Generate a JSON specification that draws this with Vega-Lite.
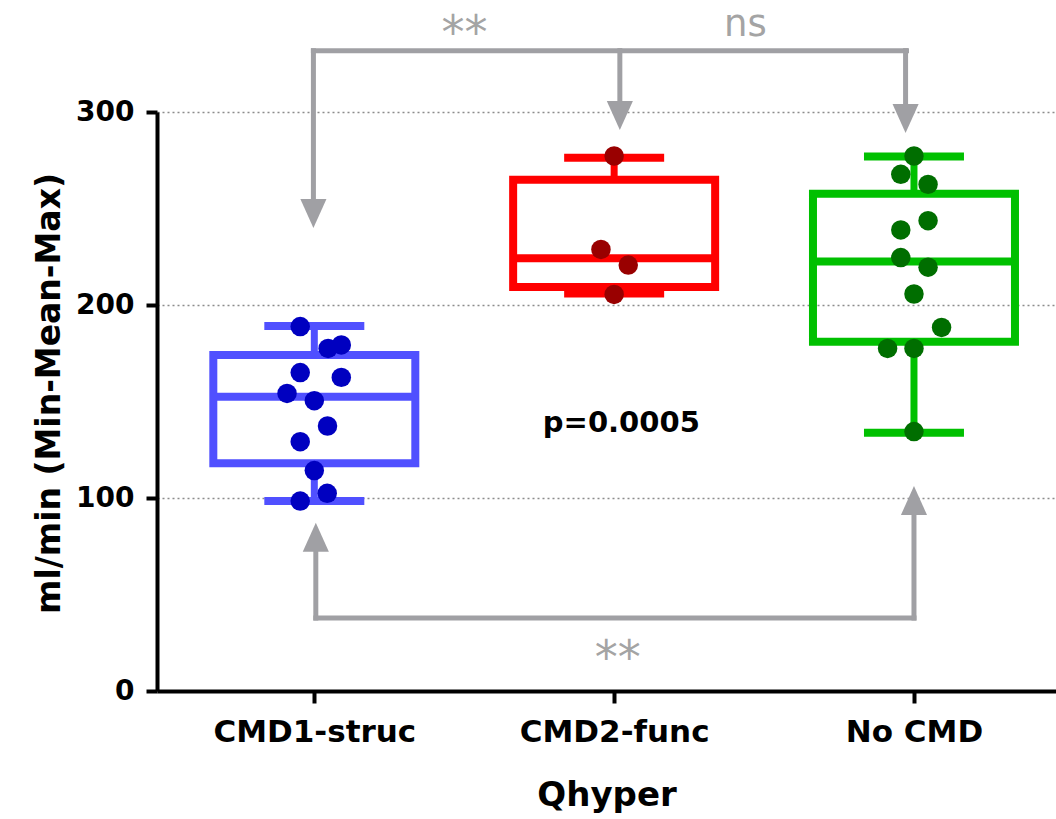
{
  "$schema": "https://vega.github.io/schema/vega-lite/v6.json",
  "width": 899,
  "height": 579,
  "autosize": {"type": "none"},
  "padding": {"left": 157, "top": 112, "right": 0, "bottom": 128},
  "background": "white",
  "config": {"view": {"stroke": null}, "font": "DejaVu Sans"},
  "datasets": {
    "boxes": [
      {"group": "CMD1-struc", "pos": 1, "min": 98.4, "q1": 118.0, "median": 152.5, "q3": 174.1, "max": 189.1},
      {"group": "CMD2-func", "pos": 2, "min": 205.9, "q1": 209.3, "median": 224.2, "q3": 264.9, "max": 276.3},
      {"group": "No CMD", "pos": 3, "min": 133.8, "q1": 181.0, "median": 222.5, "q3": 257.7, "max": 277.0}
    ],
    "points": [
      {"group": "CMD1-struc", "pos": 0.953, "value": 188.8},
      {"group": "CMD1-struc", "pos": 1.046, "value": 177.5},
      {"group": "CMD1-struc", "pos": 1.090, "value": 179.3},
      {"group": "CMD1-struc", "pos": 0.953, "value": 165.0},
      {"group": "CMD1-struc", "pos": 1.090, "value": 162.5},
      {"group": "CMD1-struc", "pos": 0.909, "value": 154.2},
      {"group": "CMD1-struc", "pos": 1.000, "value": 150.4},
      {"group": "CMD1-struc", "pos": 1.044, "value": 137.3},
      {"group": "CMD1-struc", "pos": 0.953, "value": 129.2},
      {"group": "CMD1-struc", "pos": 1.000, "value": 114.2},
      {"group": "CMD1-struc", "pos": 1.043, "value": 102.4},
      {"group": "CMD1-struc", "pos": 0.953, "value": 98.4},
      {"group": "CMD2-func", "pos": 2.000, "value": 277.2},
      {"group": "CMD2-func", "pos": 1.956, "value": 228.8},
      {"group": "CMD2-func", "pos": 2.047, "value": 220.7},
      {"group": "CMD2-func", "pos": 2.000, "value": 205.5},
      {"group": "No CMD", "pos": 3.000, "value": 277.2},
      {"group": "No CMD", "pos": 2.956, "value": 267.7},
      {"group": "No CMD", "pos": 3.047, "value": 262.5},
      {"group": "No CMD", "pos": 3.047, "value": 243.7},
      {"group": "No CMD", "pos": 2.956, "value": 238.9},
      {"group": "No CMD", "pos": 2.956, "value": 224.6},
      {"group": "No CMD", "pos": 3.047, "value": 219.6},
      {"group": "No CMD", "pos": 3.000, "value": 205.7},
      {"group": "No CMD", "pos": 3.092, "value": 188.4},
      {"group": "No CMD", "pos": 2.912, "value": 177.5},
      {"group": "No CMD", "pos": 3.000, "value": 177.5},
      {"group": "No CMD", "pos": 3.000, "value": 134.4}
    ],
    "brackets": [
      {"x": 0.997, "x2": 2.975, "y": 331.8, "y2": 331.8},
      {"x": 0.997, "x2": 0.997, "y": 331.8, "y2": 246},
      {"x": 2.019, "x2": 2.019, "y": 331.8, "y2": 296},
      {"x": 2.972, "x2": 2.972, "y": 331.8, "y2": 295},
      {"x": 1.005, "x2": 3.0, "y": 37.8, "y2": 37.8},
      {"x": 1.005, "x2": 1.005, "y": 37.8, "y2": 82},
      {"x": 3.0, "x2": 3.0, "y": 37.8, "y2": 100}
    ],
    "arrows": [
      {"x": 0.997, "y": 239.9, "dir": "down"},
      {"x": 2.019, "y": 290.7, "dir": "down"},
      {"x": 2.972, "y": 289.1, "dir": "down"},
      {"x": 1.005, "y": 87.2, "dir": "up"},
      {"x": 3.0, "y": 106.2, "dir": "up"}
    ],
    "stars": [
      {"x": 1.501, "y": 333.4, "label": "**"},
      {"x": 2.012, "y": 9.3, "label": "**"}
    ],
    "ns": [
      {"x": 2.438, "y": 339.4, "label": "ns"}
    ],
    "pval": [
      {"x": 2.024, "y": 134.3, "label": "p=0.0005"}
    ]
  },
  "layer": [
    {
      "data": {"name": "boxes"},
      "mark": {"type": "bar", "filled": false, "strokeWidth": 8, "width": 202, "fill": null},
      "encoding": {
        "x": {"field": "pos", "type": "quantitative", "title": "Qhyper", "scale": {"domain": [0.492, 3.457], "nice": false, "zero": false},
          "axis": {"title": "Qhyper", "values": [1, 2, 3],
            "labelExpr": "datum.value == 1 ? 'CMD1-struc' : datum.value == 2 ? 'CMD2-func' : 'No CMD'",
            "grid": false, "domainColor": "black", "domainWidth": 4, "tickColor": "black", "tickWidth": 4, "tickSize": 12,
            "labelPadding": 14, "labelFont": "DejaVu Sans", "labelFontWeight": "bold", "labelFontSize": 31, "labelColor": "black",
            "labelFlush": false, "labelOverlap": false, "labelLimit": 500,
            "titleFont": "DejaVu Sans", "titleFontWeight": "bold", "titleFontSize": 34, "titleColor": "black",
            "titleY": 114, "titleBaseline": "alphabetic"}},
        "y": {"field": "q1", "type": "quantitative", "title": "ml/min (Min-Mean-Max)", "scale": {"domain": [0, 300], "nice": false},
          "axis": {"title": "ml/min (Min-Mean-Max)", "values": [0, 100, 200, 300],
            "grid": true, "gridDash": [2, 3], "gridColor": "#8C8C8C", "gridWidth": 1.6,
            "domainColor": "black", "domainWidth": 4, "tickColor": "black", "tickWidth": 4, "tickSize": 11,
            "labelPadding": 12, "labelFont": "DejaVu Sans", "labelFontWeight": "bold", "labelFontSize": 28, "labelColor": "black",
            "labelFlush": false, "labelLimit": 300,
            "titleFont": "DejaVu Sans", "titleFontWeight": "bold", "titleFontSize": 33, "titleColor": "black",
            "titleX": -98, "titleY": 281, "titleBaseline": "alphabetic", "titleLimit": 800}},
        "y2": {"field": "q3"},
        "color": {"field": "group", "type": "nominal", "legend": null,
          "scale": {"domain": ["CMD1-struc", "CMD2-func", "No CMD"], "range": ["#5050FF", "#FF0000", "#00C000"]}}
      }
    },
    {
      "data": {"name": "boxes"},
      "mark": {"type": "rule", "strokeWidth": 7},
      "encoding": {
        "x": {"field": "pos", "type": "quantitative", "title": "Qhyper", "scale": {"domain": [0.492, 3.457], "nice": false, "zero": false}},
        "y": {"field": "q3", "type": "quantitative", "title": "ml/min (Min-Mean-Max)", "scale": {"domain": [0, 300], "nice": false}},
        "y2": {"field": "max"},
        "color": {"field": "group", "type": "nominal", "legend": null,
          "scale": {"domain": ["CMD1-struc", "CMD2-func", "No CMD"], "range": ["#5050FF", "#FF0000", "#00C000"]}}
      }
    },
    {
      "data": {"name": "boxes"},
      "mark": {"type": "rule", "strokeWidth": 7},
      "encoding": {
        "x": {"field": "pos", "type": "quantitative", "title": "Qhyper", "scale": {"domain": [0.492, 3.457], "nice": false, "zero": false}},
        "y": {"field": "min", "type": "quantitative", "title": "ml/min (Min-Mean-Max)", "scale": {"domain": [0, 300], "nice": false}},
        "y2": {"field": "q1"},
        "color": {"field": "group", "type": "nominal", "legend": null,
          "scale": {"domain": ["CMD1-struc", "CMD2-func", "No CMD"], "range": ["#5050FF", "#FF0000", "#00C000"]}}
      }
    },
    {
      "data": {"name": "boxes"},
      "mark": {"type": "tick", "orient": "horizontal", "size": 202, "thickness": 8, "opacity": 1},
      "encoding": {
        "x": {"field": "pos", "type": "quantitative", "title": "Qhyper", "scale": {"domain": [0.492, 3.457], "nice": false, "zero": false}},
        "y": {"field": "median", "type": "quantitative", "title": "ml/min (Min-Mean-Max)", "scale": {"domain": [0, 300], "nice": false}},
        "color": {"field": "group", "type": "nominal", "legend": null,
          "scale": {"domain": ["CMD1-struc", "CMD2-func", "No CMD"], "range": ["#5050FF", "#FF0000", "#00C000"]}}
      }
    },
    {
      "data": {"name": "boxes"},
      "mark": {"type": "tick", "orient": "horizontal", "size": 100, "thickness": 8, "opacity": 1},
      "encoding": {
        "x": {"field": "pos", "type": "quantitative", "title": "Qhyper", "scale": {"domain": [0.492, 3.457], "nice": false, "zero": false}},
        "y": {"field": "max", "type": "quantitative", "title": "ml/min (Min-Mean-Max)", "scale": {"domain": [0, 300], "nice": false}},
        "color": {"field": "group", "type": "nominal", "legend": null,
          "scale": {"domain": ["CMD1-struc", "CMD2-func", "No CMD"], "range": ["#5050FF", "#FF0000", "#00C000"]}}
      }
    },
    {
      "data": {"name": "boxes"},
      "mark": {"type": "tick", "orient": "horizontal", "size": 100, "thickness": 8, "opacity": 1},
      "encoding": {
        "x": {"field": "pos", "type": "quantitative", "title": "Qhyper", "scale": {"domain": [0.492, 3.457], "nice": false, "zero": false}},
        "y": {"field": "min", "type": "quantitative", "title": "ml/min (Min-Mean-Max)", "scale": {"domain": [0, 300], "nice": false}},
        "color": {"field": "group", "type": "nominal", "legend": null,
          "scale": {"domain": ["CMD1-struc", "CMD2-func", "No CMD"], "range": ["#5050FF", "#FF0000", "#00C000"]}}
      }
    },
    {
      "data": {"name": "points"},
      "mark": {"type": "circle", "size": 380, "opacity": 1},
      "encoding": {
        "x": {"field": "pos", "type": "quantitative", "title": "Qhyper", "scale": {"domain": [0.492, 3.457], "nice": false, "zero": false}},
        "y": {"field": "value", "type": "quantitative", "title": "ml/min (Min-Mean-Max)", "scale": {"domain": [0, 300], "nice": false}},
        "color": {"field": "group", "type": "nominal", "legend": null,
          "scale": {"domain": ["CMD1-struc", "CMD2-func", "No CMD"], "range": ["#0000C0", "#990000", "#006E00"]}}
      }
    },
    {
      "data": {"name": "brackets"},
      "mark": {"type": "rule", "strokeWidth": 5, "color": "#A0A0A4", "strokeCap": "square"},
      "encoding": {
        "x": {"field": "x", "type": "quantitative", "title": "Qhyper", "scale": {"domain": [0.492, 3.457], "nice": false, "zero": false}},
        "x2": {"field": "x2"},
        "y": {"field": "y", "type": "quantitative", "title": "ml/min (Min-Mean-Max)", "scale": {"domain": [0, 300], "nice": false}},
        "y2": {"field": "y2"}
      }
    },
    {
      "data": {"name": "arrows"},
      "mark": {"type": "point", "filled": true, "size": 841, "opacity": 1, "color": "#A0A0A4", "strokeWidth": 0},
      "encoding": {
        "x": {"field": "x", "type": "quantitative", "title": "Qhyper", "scale": {"domain": [0.492, 3.457], "nice": false, "zero": false}},
        "y": {"field": "y", "type": "quantitative", "title": "ml/min (Min-Mean-Max)", "scale": {"domain": [0, 300], "nice": false}},
        "shape": {"field": "dir", "type": "nominal", "legend": null,
          "scale": {"domain": ["down", "up"], "range": ["M -0.9 -2 L 0.9 -2 L 0 0 Z", "M -0.9 2 L 0.9 2 L 0 0 Z"]}}
      }
    },
    {
      "data": {"name": "stars"},
      "mark": {"type": "text", "font": "DejaVu Sans", "fontSize": 46, "color": "#A4A4A4", "align": "center", "baseline": "alphabetic"},
      "encoding": {
        "x": {"field": "x", "type": "quantitative", "title": "Qhyper", "scale": {"domain": [0.492, 3.457], "nice": false, "zero": false}},
        "y": {"field": "y", "type": "quantitative", "title": "ml/min (Min-Mean-Max)", "scale": {"domain": [0, 300], "nice": false}},
        "text": {"field": "label"}
      }
    },
    {
      "data": {"name": "ns"},
      "mark": {"type": "text", "font": "DejaVu Sans", "fontSize": 37, "color": "#A4A4A4", "align": "center", "baseline": "alphabetic"},
      "encoding": {
        "x": {"field": "x", "type": "quantitative", "title": "Qhyper", "scale": {"domain": [0.492, 3.457], "nice": false, "zero": false}},
        "y": {"field": "y", "type": "quantitative", "title": "ml/min (Min-Mean-Max)", "scale": {"domain": [0, 300], "nice": false}},
        "text": {"field": "label"}
      }
    },
    {
      "data": {"name": "pval"},
      "mark": {"type": "text", "font": "DejaVu Sans", "fontSize": 29, "fontWeight": "bold", "color": "black", "align": "center", "baseline": "alphabetic"},
      "encoding": {
        "x": {"field": "x", "type": "quantitative", "title": "Qhyper", "scale": {"domain": [0.492, 3.457], "nice": false, "zero": false}},
        "y": {"field": "y", "type": "quantitative", "title": "ml/min (Min-Mean-Max)", "scale": {"domain": [0, 300], "nice": false}},
        "text": {"field": "label"}
      }
    }
  ],
  "resolve": {"scale": {"color": "independent"}}
}
